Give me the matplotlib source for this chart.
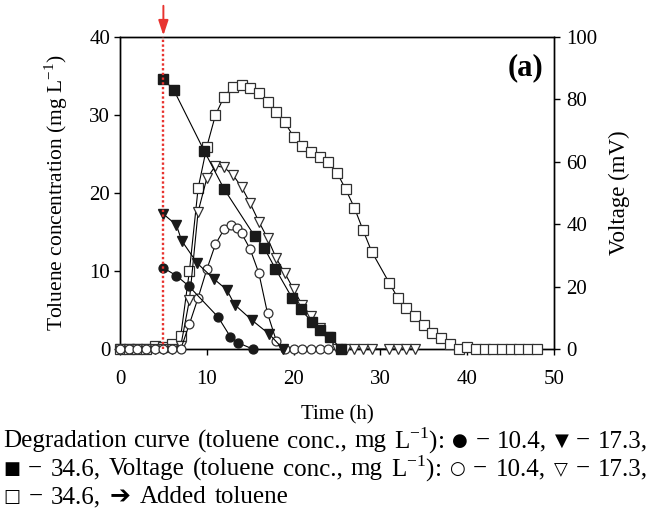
import matplotlib
matplotlib.use("Agg")
import matplotlib.pyplot as plt

SERIF = ['Liberation Serif', 'DejaVu Serif', 'DejaVu Sans']
plt.rcParams['font.family'] = SERIF
plt.rcParams['mathtext.fontset'] = 'custom'
plt.rcParams['mathtext.rm'] = 'Liberation Serif'

# Degradation curves (left axis, mg/L)
deg_t_104 = [5, 6.5, 7.9, 11.3, 12.7, 13.6, 15.3]
deg_v_104 = [10.4, 9.4, 8.1, 4.1, 1.6, 0.8, 0]
deg_t_173 = [5, 6.5, 7.1, 8.9, 10.8, 12.3, 13.2, 15.2, 17.2, 18.8]
deg_v_173 = [17.3, 15.9, 13.9, 11.0, 9.0, 7.6, 5.7, 3.7, 1.9, 0]
deg_t_346 = [5, 6.2, 9.7, 12.0, 15.5, 16.6, 17.9, 19.8, 20.8, 22.1, 23.1, 24.2, 25.5]
deg_v_346 = [34.6, 33.2, 25.4, 20.5, 14.5, 13.0, 10.3, 6.6, 5.1, 3.5, 2.5, 1.5, 0]

# Voltage curves (right axis, mV)
volt_t_104 = [0, 1, 2, 3, 4, 5, 6, 7, 8, 9, 10, 11, 12, 12.8, 13.5, 14, 15, 16, 17, 18, 19,
              20, 21, 22, 23, 24]
volt_v_104 = [0, 0, 0, 0, 0, 0, 0, 0, 8.0, 16.4, 25.5, 33.6, 38.4, 39.8, 38.7, 37.1, 32.0,
              24.3, 11.4, 2.7, 0, 0, 0, 0, 0, 0]
volt_t_173 = [0, 1, 2, 3, 4, 5, 6, 7, 8, 9, 10, 11, 12, 13, 14, 15, 16, 17, 18, 19, 20, 21,
              22, 23, 24, 25, 26, 27, 28, 29, 31, 32, 33, 34]
volt_v_173 = [0, 0, 0, 0, 0, 0, 0, 1.0, 15.7, 44.0, 54.7, 58.7, 58.2, 55.8, 52.0, 46.7, 40.8,
              35.5, 29.1, 24.3, 19.1, 14.1, 10.6, 6.6, 3.9, 0, 0, 0, 0, 0, 0, 0, 0, 0]
volt_t_346 = [0, 1, 2, 3, 4, 5, 6, 7, 8, 9, 10, 11, 12, 13, 14, 15, 16, 17, 18, 19, 20, 21,
              22, 23, 24, 25, 26, 27, 28, 29, 31, 32, 33, 34, 35, 36, 37, 38, 39, 40, 41, 42,
              43, 44, 45, 46, 47, 48]
volt_v_346 = [0, 0, 0, 0, 1.0, 0.5, 1.5, 4.2, 25.0, 51.5, 64.8, 75.0, 80.9, 84.1, 84.6, 83.6,
              82.0, 79.3, 76.0, 72.6, 68.0, 65.2, 63.2, 61.6, 59.8, 56.5, 51.2, 45.3, 38.1,
              31.2, 21.3, 16.4, 13.0, 10.7, 7.7, 5.2, 3.4, 1.6, 0, 0.5, 0, 0, 0, 0, 0, 0, 0, 0]

toluene_added_t = 5

x_ticks = [0, 10, 20, 30, 40, 50]
yl_ticks = [0, 10, 20, 30, 40]
yr_ticks = [0, 20, 40, 60, 80, 100]

W, H = 651, 511
fig = plt.figure(figsize=(W / 100, H / 100), dpi=100)
ax = fig.add_axes([0.1843, 0.317, 0.6667, 0.6106])
ax2 = ax.twinx()

line_kw = dict(color='black', lw=0.8, clip_on=False)
ms = 6.7
edge_open = '#303030'

# voltage (open markers) on right axis
ax2.plot(volt_t_346, volt_v_346, marker='s', ms=ms, mfc='white', mec=edge_open, mew=0.9,
         zorder=3, **line_kw)
ax2.plot(volt_t_173, volt_v_173, marker='v', ms=ms + 0.5, mfc='white', mec=edge_open, mew=0.9,
         zorder=3, **line_kw)
ax2.plot(volt_t_104, volt_v_104, marker='o', ms=ms - 0.3, mfc='white', mec=edge_open, mew=0.9,
         zorder=3, **line_kw)

# degradation (filled markers) on left-axis scale, drawn on ax2 via the axis ratio
scale = 100 / 40
ax2.plot(deg_t_346, [v * scale for v in deg_v_346], marker='s', ms=ms, mfc='#1a1a1a', mec='#1a1a1a',
         zorder=4, **line_kw)
ax2.plot(deg_t_173, [v * scale for v in deg_v_173], marker='v', ms=ms + 0.5, mfc='#1a1a1a',
         mec='#1a1a1a', zorder=4, **line_kw)
ax2.plot(deg_t_104, [v * scale for v in deg_v_104], marker='o', ms=ms - 0.3, mfc='#1a1a1a',
         mec='#1a1a1a', zorder=4, **line_kw)

# added toluene marker
red = '#e8332f'
ax2.axvline(toluene_added_t, ymin=0, ymax=1, color=red, lw=1.7, ls=(0, (1.0, 1.0)), zorder=5)
ax2.annotate('', xy=(toluene_added_t, 100.5), xytext=(toluene_added_t, 110),
             xycoords='data', textcoords='data', annotation_clip=False,
             arrowprops=dict(arrowstyle='-|>,head_length=0.9,head_width=0.3', color=red, lw=1.4,
                             shrinkA=0, shrinkB=0))

ax.set_xlim(0, 50)
ax.set_ylim(0, 40)
ax2.set_ylim(0, 100)
ax.set_xticks(x_ticks)
ax.set_yticks(yl_ticks)
ax2.set_yticks(yr_ticks)

for a in (ax, ax2):
    a.tick_params(direction='out', length=4, width=1.0, labelsize=15)
    for s in a.spines.values():
        s.set_linewidth(1.0)
ax.tick_params(axis='x', pad=11)
ax.tick_params(axis='y', pad=3)
ax2.tick_params(axis='y', pad=5)

ax.set_xlabel('Time (h)', fontsize=15, labelpad=12)
ax.set_ylabel('Toluene concentration (mg L$^{\\mathregular{-1}}$)', fontsize=15.5, labelpad=14)
ax2.set_ylabel('Voltage (mV)', fontsize=16.5, labelpad=8)

ax2.text(0.975, 0.9, '(a)', transform=ax2.transAxes, ha='right', va='center',
         fontsize=22, fontweight='bold')

# caption: justified lines of tokens (pixel positions)
cap_fs = 18
SYMS = ('\u25cf', '\u25cb', '\u25a0', '\u25a1', '\u25bc', '\u25bd')
SUP = 'L$^{\\mathregular{-1}}$):'
renderer = fig.canvas.get_renderer()


def place_line(tokens, ypix, x0, x1=None, gap=None):
    objs = []
    for tok in tokens:
        if tok in SYMS:
            t = fig.text(0, 1 - ypix / H, tok, fontsize=cap_fs * 0.72, ha='left', va='center',
                         family=['DejaVu Sans'])
        else:
            t = fig.text(0, 1 - ypix / H, tok, fontsize=cap_fs, ha='left', va='center',
                         family=SERIF)
        objs.append(t)
    widths = [o.get_window_extent(renderer).width for o in objs]
    if x1 is not None:
        g = (x1 - x0 - sum(widths)) / (len(objs) - 1)
    else:
        g = gap
    x = x0
    for o, w in zip(objs, widths):
        o.set_x(x / W)
        x += w + g


place_line(['Degradation', 'curve', '(toluene', 'conc.,', 'mg', SUP,
            '\u25cf', '\u2212', '10.4,', '\u25bc', '\u2212', '17.3,'], 441, 3, 648)
place_line(['\u25a0', '\u2212', '34.6,', 'Voltage', '(toluene', 'conc.,', 'mg', SUP,
            '\u25cb', '\u2212', '10.4,', '\u25bd', '\u2212', '17.3,'], 469, 3, 648)
place_line(['\u25a1', '\u2212', '34.6,', '\u2794', 'Added', 'toluene'], 497, 3, None, gap=8.5)

fig.savefig('out.png', dpi=100)
